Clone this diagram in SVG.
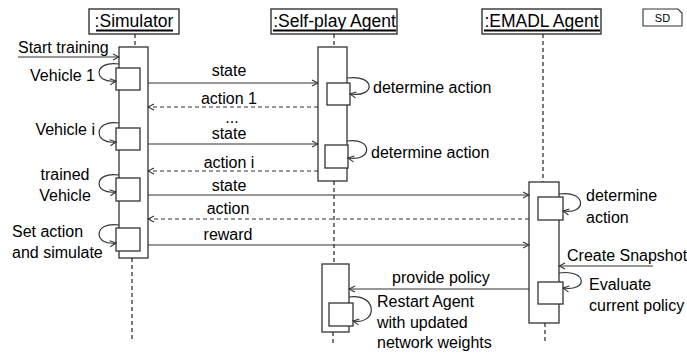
<svg xmlns="http://www.w3.org/2000/svg" width="687" height="354" viewBox="0 0 687 354">
<style>
.hdr{fill:#fff;stroke:#333;stroke-width:1.4}
.ht{font-family:"Liberation Sans",Arial,sans-serif;font-size:17.5px;fill:#000}
.ul{stroke:#000;stroke-width:1.8}
.act{fill:#fff;stroke:#333;stroke-width:1.3}
.life{stroke:#222;stroke-width:1.2;stroke-dasharray:4 3;fill:none}
.msg{stroke:#333;stroke-width:1.2;fill:none}
.ret{stroke:#333;stroke-width:1.2;fill:none;stroke-dasharray:4 3}
.self{stroke:#333;stroke-width:1.2;fill:none}
.t{font-family:"Liberation Sans",Arial,sans-serif;font-size:16px;fill:#000}
.m{text-anchor:middle}
</style>
<defs>
<marker id="ah" markerWidth="8" markerHeight="8" refX="7" refY="4" orient="auto" markerUnits="userSpaceOnUse">
<path d="M1,1 L7,4 L1,7" fill="none" stroke="#333" stroke-width="1.1"/>
</marker>
</defs>
<rect width="687" height="354" fill="#fff"/>

<g id="sd-frame">
<path d="M643,9 L678,9 L682,13 L682,26 L643,26 Z" fill="#fff" stroke="#333" stroke-width="1.1"/>
<text x="662.5" y="22" font-family="Liberation Sans,Arial,sans-serif" font-size="11" text-anchor="middle">SD</text>
</g>

<g id="simulator">
<rect class="hdr" x="89" y="9" width="90" height="25"/>
<text class="ht" x="134" y="27" text-anchor="middle">:Simulator</text>
<line class="ul" x1="96" y1="30.5" x2="173" y2="30.5"/>
<line class="life" x1="135" y1="34" x2="135" y2="47"/>
<rect class="act" x="119" y="47" width="29" height="211"/>
<line class="life" x1="132" y1="258" x2="132" y2="341"/>
<rect class="act" x="116" y="68" width="24" height="22"/>
<rect class="act" x="116" y="128" width="24" height="22"/>
<rect class="act" x="116" y="178" width="24" height="23"/>
<rect class="act" x="116" y="228" width="24" height="23"/>
</g>

<g id="self-play-agent">
<rect class="hdr" x="271" y="9" width="126" height="25"/>
<text class="ht" x="334.5" y="27" text-anchor="middle">:Self-play Agent</text>
<line class="ul" x1="273" y1="30.5" x2="396" y2="30.5"/>
<line class="life" x1="334" y1="34" x2="334" y2="47"/>
<rect class="act" x="318" y="47" width="29" height="134"/>
<rect class="act" x="327" y="83" width="23" height="22"/>
<rect class="act" x="325" y="145" width="23" height="23"/>
<line class="life" x1="334" y1="181" x2="334" y2="264"/>
<rect class="act" x="322" y="264" width="27" height="68"/>
<rect class="act" x="329" y="303" width="24" height="23"/>
<line class="life" x1="333" y1="332" x2="333" y2="344"/>
</g>

<g id="emadl-agent">
<rect class="hdr" x="482" y="9" width="119" height="25"/>
<text class="ht" x="541.5" y="27" text-anchor="middle">:EMADL Agent</text>
<line class="ul" x1="484" y1="30.5" x2="600" y2="30.5"/>
<line class="life" x1="543" y1="34" x2="543" y2="182"/>
<rect class="act" x="529" y="182" width="30" height="141"/>
<rect class="act" x="538" y="197" width="25" height="23"/>
<rect class="act" x="538" y="282" width="25" height="22"/>
<line class="life" x1="545" y1="323" x2="545" y2="344"/>
</g>

<g id="connectors">
<!-- start training -->
<line class="msg" x1="18" y1="57" x2="119" y2="57" marker-end="url(#ah)"/>
<!-- simulator self calls -->
<path class="self" d="M119,64 C93,60 93,84 116,81" marker-end="url(#ah)"/>
<path class="self" d="M119,123 C93,119 93,145 116,142" marker-end="url(#ah)"/>
<path class="self" d="M119,175 C93,171 93,195 116,192" marker-end="url(#ah)"/>
<path class="self" d="M119,225 C93,221 93,246 116,243" marker-end="url(#ah)"/>
<!-- messages to self-play -->
<line class="msg" x1="148" y1="83" x2="318" y2="83" marker-end="url(#ah)"/>
<line class="ret" x1="318" y1="107" x2="148" y2="107" marker-end="url(#ah)"/>
<line class="msg" x1="148" y1="144" x2="318" y2="144" marker-end="url(#ah)"/>
<line class="ret" x1="318" y1="171" x2="148" y2="171" marker-end="url(#ah)"/>
<!-- self-play self calls -->
<path class="self" d="M347,78 C376,74 376,98 350,94" marker-end="url(#ah)"/>
<path class="self" d="M347,141 C373,137 373,162 348,158" marker-end="url(#ah)"/>
<path class="self" d="M349,297 C378,293 378,325 353,321" marker-end="url(#ah)"/>
<!-- messages to EMADL -->
<line class="msg" x1="148" y1="195" x2="529" y2="195" marker-end="url(#ah)"/>
<line class="ret" x1="529" y1="219" x2="148" y2="219" marker-end="url(#ah)"/>
<line class="msg" x1="148" y1="245" x2="529" y2="245" marker-end="url(#ah)"/>
<!-- EMADL self calls -->
<path class="self" d="M559,194 C587,190 587,215 563,211" marker-end="url(#ah)"/>
<path class="self" d="M559,273 C588,269 588,292 563,288" marker-end="url(#ah)"/>
<!-- create snapshot -->
<line class="msg" x1="653" y1="266" x2="559" y2="266" marker-end="url(#ah)"/>
<!-- provide policy -->
<line class="msg" x1="529" y1="289" x2="349" y2="289" marker-end="url(#ah)"/>
</g>

<g id="labels">
<text class="t" x="18" y="53">Start training</text>
<text class="t" x="95" y="81" text-anchor="end">Vehicle 1</text>
<text class="t" x="95" y="135" text-anchor="end">Vehicle i</text>
<text class="t m" x="65" y="180">trained</text>
<text class="t m" x="65" y="201">Vehicle</text>
<text class="t" x="12" y="237">Set action</text>
<text class="t" x="12" y="258">and simulate</text>
<text class="t m" x="229" y="76">state</text>
<text class="t m" x="229" y="104">action 1</text>
<text class="t m" x="232" y="123">...</text>
<text class="t m" x="229" y="139">state</text>
<text class="t m" x="229" y="168">action i</text>
<text class="t m" x="229" y="191">state</text>
<text class="t m" x="228" y="214">action</text>
<text class="t m" x="228" y="240">reward</text>
<text class="t" x="373" y="93">determine action</text>
<text class="t" x="371" y="158">determine action</text>
<text class="t" x="586" y="201">determine</text>
<text class="t" x="586" y="223">action</text>
<text class="t" x="567" y="261">Create Snapshot</text>
<text class="t" x="589" y="290">Evaluate</text>
<text class="t" x="589" y="311">current policy</text>
<text class="t" x="392" y="283">provide policy</text>
<text class="t" x="377" y="307">Restart Agent</text>
<text class="t" x="377" y="328">with updated</text>
<text class="t" x="377" y="348">network weights</text>
</g>
</svg>
